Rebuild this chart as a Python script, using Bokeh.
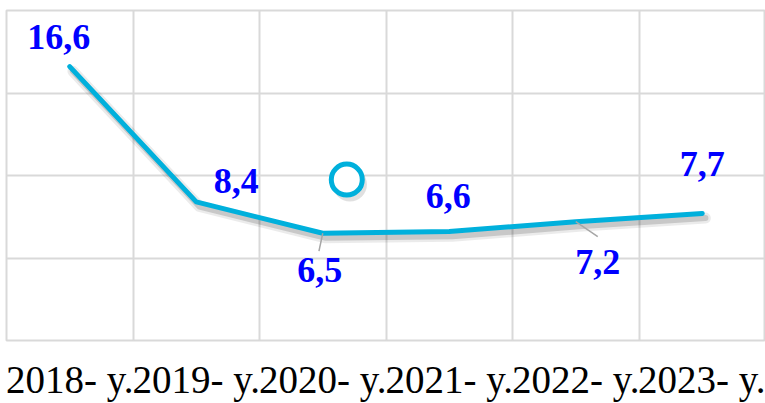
from bokeh.plotting import figure
from bokeh.models import Range1d, FixedTicker, ColumnDataSource
from bokeh.core.properties import value
from bokeh.embed import file_html
from bokeh.resources import INLINE

# ---- data ----
years = ["2018- y.", "2019- y.", "2020- y.", "2021- y.", "2022- y.", "2023- y."]
values = [16.6, 8.4, 6.5, 6.6, 7.2, 7.7]
value_labels = ["16,6", "8,4", "6,5", "6,6", "7,2", "7,7"]
stray_marker_x = [2.19]
stray_marker_y = [9.75]

# ---- styles / label placement (pixels) ----
label_dx = [-11, 40, -3, -1, 22, 0]
label_dy = [-30, -21, 37, -36, 40, -49]

x = list(range(len(years)))

p = figure(width=765, height=403, output_backend="svg", toolbar_location=None,
           x_range=Range1d(-0.5, len(years) - 0.5), y_range=Range1d(0, 20),
           y_axis_location=None, min_border_left=6, min_border_right=0,
           min_border_top=10, min_border_bottom=0)
p.background_fill_color = "white"
p.border_fill_color = "white"
p.outline_line_color = "#d9d9d9"
p.outline_line_width = 2

p.xgrid.ticker = FixedTicker(ticks=[i - 0.5 for i in range(len(years) + 1)])
p.ygrid.ticker = FixedTicker(ticks=[0, 5, 10, 15, 20])
for g in (p.xgrid, p.ygrid):
    g.grid_line_color = "#d9d9d9"
    g.grid_line_width = 2

ax = p.xaxis[0]
ax.ticker = FixedTicker(ticks=x)
ax.major_label_overrides = {i: t for i, t in zip(x, years)}
ax.axis_line_color = None
ax.major_tick_line_color = None
ax.minor_tick_line_color = None
ax.major_tick_out = 0
ax.major_tick_in = 0
ax.major_label_standoff = 17
ax.major_label_text_font = "Liberation Serif"
ax.major_label_text_font_size = "39px"
ax.major_label_text_color = "black"

# shadow
xs_sh = [v + 0.025 for v in x]
ys_sh = [v - 0.28 for v in values]
p.line(xs_sh, ys_sh, line_color="black", line_alpha=0.08, line_width=11, line_join="round", line_cap="round")
p.line(xs_sh, ys_sh, line_color="black", line_alpha=0.15, line_width=6, line_join="round", line_cap="round")

# main line
p.line(x, values, line_color="#00B0DC", line_width=5, line_join="round", line_cap="round")

# leader lines for two labels
leader_idx = [2, 4]
leader_dx = [-0.03, 0.174]
leader_dy = [-1.08, -0.9]
p.segment(x0=[x[i] for i in leader_idx], y0=[values[i] for i in leader_idx],
          x1=[x[i] + d for i, d in zip(leader_idx, leader_dx)],
          y1=[values[i] + d for i, d in zip(leader_idx, leader_dy)],
          line_color="#a6a6a6", line_width=1.5)

# stray marker with shadow
p.scatter([v + 0.025 for v in stray_marker_x], [v - 0.3 for v in stray_marker_y], size=34,
          fill_color="black", fill_alpha=0.12, line_color=None)
p.scatter(stray_marker_x, stray_marker_y, size=31, fill_color="white",
          line_color="#00B0DC", line_width=5)

src = ColumnDataSource(dict(x=x, y=values, t=value_labels, dx=label_dx, dy=label_dy))
p.text(x="x", y="y", text="t", x_offset="dx", y_offset="dy", source=src,
       text_font=value("Liberation Serif"), text_font_style="bold",
       text_font_size="36px", text_color="#0000FF",
       text_align="center", text_baseline="middle")

open("out.html", "w").write(file_html(p, INLINE))
